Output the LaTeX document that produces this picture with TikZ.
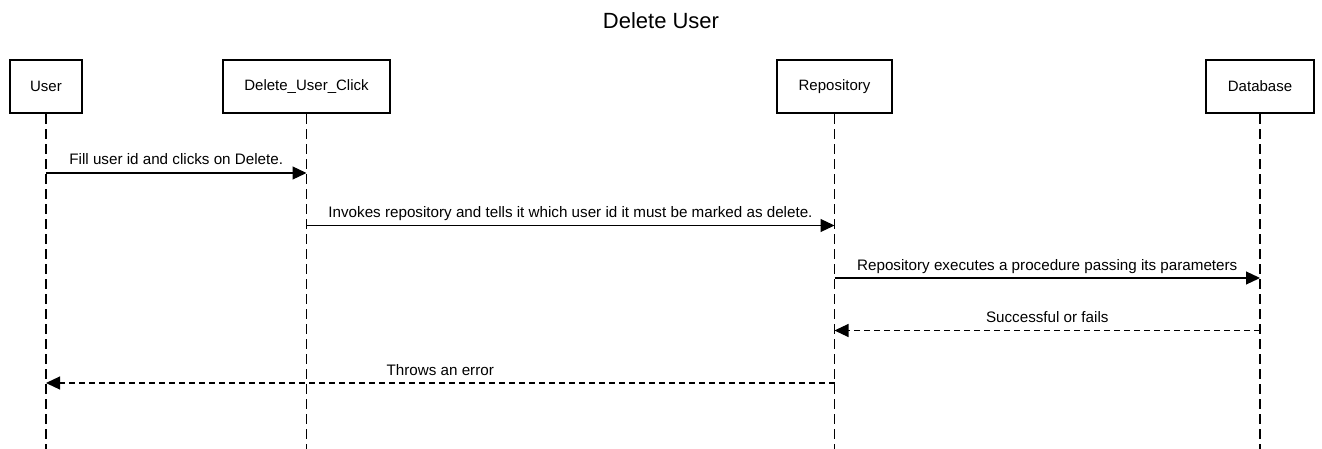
\documentclass[tikz,border=0pt]{standalone}
\usepackage{fontspec}
\setmainfont{Liberation Sans}
\usetikzlibrary{arrows.meta}
\begin{document}
\begin{tikzpicture}[x=1pt,y=-1pt,
  actor/.style={draw=black,line width=2.6pt,minimum height=53pt,inner sep=0pt,font=\fontsize{15}{18}\selectfont},
  lifeline/.style={draw=black,line width=1.5pt,dash pattern=on 10pt off 5pt},
  msg/.style={draw=black,line width=1.2pt,-{Triangle[length=14pt,width=13pt]}},
  reply/.style={msg,dash pattern=on 6pt off 4pt},
  lbl/.style={font=\fontsize{15.2}{18}\selectfont,inner sep=0pt,anchor=base}]
\useasboundingbox (0,0) rectangle (1322,449);
\node[font=\fontsize{22}{26}\selectfont] (title) at (661,21) {Delete User};
\node[actor,minimum width=72pt] (user) at (46,86.5) {User};
\node[actor,minimum width=167pt] (duc) at (306.5,86.5) {Delete\_User\_Click};
\node[actor,minimum width=115pt] (repo) at (834.5,86.5) {Repository};
\node[actor,minimum width=108pt] (db) at (1260,86.5) {Database};
\foreach \n in {user,duc,repo,db}{
  \coordinate (\n-end) at (\n.south |- 0,449);
  \draw[lifeline] (\n.south) -- (\n-end);
}
% message endpoints
\foreach \n in {user,duc,repo,db}{
  \coordinate (\n-m1) at (\n.south |- 0,173);
  \coordinate (\n-m2) at (\n.south |- 0,225.5);
  \coordinate (\n-m3) at (\n.south |- 0,278);
  \coordinate (\n-m4) at (\n.south |- 0,330.5);
  \coordinate (\n-m5) at (\n.south |- 0,383);
}
\draw[msg] (user-m1) -- node[lbl,yshift=8pt] (l1) {Fill user id and clicks on Delete.} (duc-m1);
\draw[msg] (duc-m2) -- node[lbl,yshift=8pt] (l2) {Invokes repository and tells it which user id it must be marked as delete.} (repo-m2);
\draw[msg] (repo-m3) -- node[lbl,yshift=8pt] (l3) {Repository executes a procedure passing its parameters} (db-m3);
\draw[reply] (db-m4) -- node[lbl,yshift=8pt] (l4) {Successful or fails} (repo-m4);
\draw[reply] (repo-m5) -- node[lbl,yshift=8pt] (l5) {Throws an error} (user-m5);
\end{tikzpicture}
\end{document}
